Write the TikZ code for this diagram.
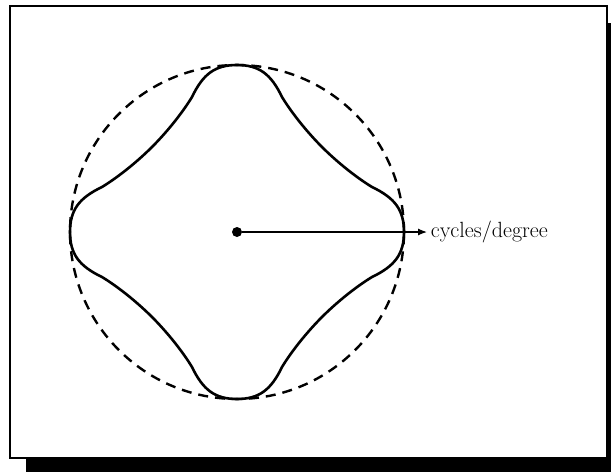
\documentclass[tikz,border=0pt]{standalone}
\usetikzlibrary{arrows.meta}

\begin{document}
\begin{tikzpicture}[x=1pt, y=-1pt, frame/.style={line width=1.5pt}, shadow/.style={fill=black}, bound/.style={line width=2.4pt, dash pattern=on 10pt off 7pt}, lobe/.style={line width=2.6pt, line cap=round}]
\useasboundingbox (0,0) rectangle (611,472);
\fill[shadow] (26,458) rectangle (611,472);
\fill[shadow] (607,23) rectangle (611,472);
\draw[frame, fill=white] (10,6) rectangle (607,458);
\node[circle, fill, inner sep=0pt, minimum size=10pt] (ctr) at (237,232) {};
\draw[bound] (ctr) circle[radius=167pt];
\foreach \sx/\sy in {1/1,-1/1,1/-1,-1/-1}
  \draw[lobe, shift={(237,232)}, xscale=\sx, yscale=\sy] (0,167) .. controls (22,167) and (34,158) .. (45,135) .. controls (56,117) and (72,98) .. (85,85) .. controls (98,72) and (117,56) .. (135,45) .. controls (158,34) and (167,22) .. (167,0);
\node[anchor=west, font=\fontsize{20}{24}\selectfont, scale=1.1] (lbl) at (427,232) {cycles/degree};
\draw[line width=1.2pt, -{Latex[length=9pt,width=7pt]}] (ctr) -- (lbl.west);
\end{tikzpicture}
\end{document}
